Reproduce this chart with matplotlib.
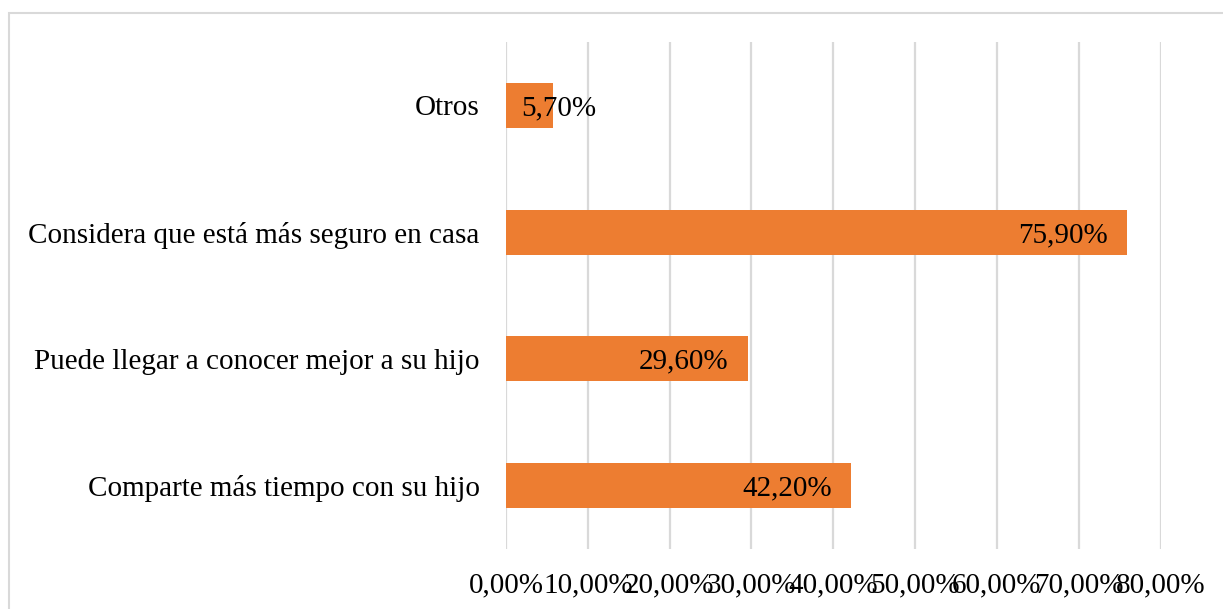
import matplotlib.pyplot as plt
from matplotlib.patches import Rectangle

categorias = ['Comparte más tiempo con su hijo',
              'Puede llegar a conocer mejor a su hijo',
              'Considera que está más seguro en casa',
              'Otros']
valores = [42.2, 29.6, 75.9, 5.7]
ticks = [0, 10, 20, 30, 40, 50, 60, 70, 80]

plt.rcParams['font.family'] = ['Liberation Serif', 'DejaVu Serif']

fig = plt.figure(figsize=(12.23, 6.09), dpi=100)
ax = fig.add_axes([0.4137, 0.0985, 0.5352, 0.8325])

y = range(len(categorias))
ax.barh(y, valores, height=0.355, color='#ED7D31', zorder=3)

ax.set_xlim(0, 80)
ax.set_ylim(-0.5, len(categorias) - 0.5)
ax.set_xticks(ticks)
ax.set_xticklabels([f'{t:.2f}%'.replace('.', ',') for t in ticks], fontsize=21)
ax.set_yticks(list(y))
ax.set_yticklabels(categorias, fontsize=21)
ax.tick_params(axis='x', length=0, pad=17)
ax.tick_params(axis='y', length=0, pad=19)
ax.grid(axis='x', color='#D9D9D9', linewidth=1.6, zorder=0)
for s in ax.spines.values():
    s.set_visible(False)

# etiquetas de datos
for i, v in enumerate(valores):
    txt = f'{v:.2f}%'.replace('.', ',')
    if v < 10:
        ax.annotate(txt, (0, i), xytext=(11, -2), textcoords='offset points',
                    ha='left', va='center', fontsize=21, zorder=4)
    else:
        ax.annotate(txt, (v, i), xytext=(-14, -2), textcoords='offset points',
                    ha='right', va='center', fontsize=21, zorder=4)

# marco del grafico
fig.patches.append(Rectangle((9 / 1223, -0.05), 1.1, 1.05 - 13 / 609,
                             transform=fig.transFigure, fill=False,
                             edgecolor='#D9D9D9', linewidth=1.5))

fig.savefig('out.png', dpi=100)
